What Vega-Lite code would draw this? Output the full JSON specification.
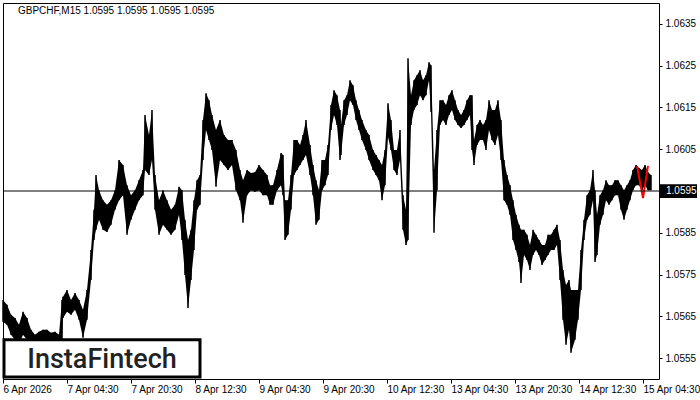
{
  "$schema": "https://vega.github.io/schema/vega-lite/v6.json",
  "width": 656,
  "height": 376,
  "autosize": {"type": "none"},
  "padding": {"left": 3, "top": 3, "right": 41, "bottom": 21},
  "background": "white",
  "config": {
    "view": {"stroke": "black", "strokeWidth": 1},
    "font": "Liberation Sans",
    "axis": {"labelFont": "Liberation Sans", "labelFontSize": 10, "labelColor": "black", "tickColor": "black", "grid": false, "domain": false}
  },
  "datasets": {
    "bars": [
      {"i":0,"h":1.05689,"l":1.05637},{"i":4,"h":1.05678,"l":1.0563},{"i":8,"h":1.05654,"l":1.05606},{"i":12,"h":1.05646,"l":1.05594},{"i":16,"h":1.0563,"l":1.05582},{"i":20,"h":1.05661,"l":1.05606},{"i":24,"h":1.05646,"l":1.05594},{"i":28,"h":1.05618,"l":1.05582},{"i":32,"h":1.05606,"l":1.05582},{"i":36,"h":1.05613,"l":1.05582},{"i":40,"h":1.05618,"l":1.05582},{"i":44,"h":1.05618,"l":1.05589},{"i":48,"h":1.05611,"l":1.05582},{"i":52,"h":1.05613,"l":1.05582},{"i":56,"h":1.05606,"l":1.05582},{"i":59,"h":1.05689,"l":1.05594},{"i":60,"h":1.05697,"l":1.05646},{"i":64,"h":1.05713,"l":1.05661},{"i":68,"h":1.05689,"l":1.05654},{"i":72,"h":1.05706,"l":1.05666},{"i":76,"h":1.05689,"l":1.05642},{"i":80,"h":1.05666,"l":1.05599},{"i":84,"h":1.05713,"l":1.05642},{"i":88,"h":1.05809,"l":1.05737},{"i":91,"h":1.05905,"l":1.05833},{"i":93,"h":1.05988,"l":1.05857},{"i":96,"h":1.05952,"l":1.05881},{"i":100,"h":1.05928,"l":1.05857},{"i":104,"h":1.05917,"l":1.05852},{"i":108,"h":1.05928,"l":1.05869},{"i":112,"h":1.05952,"l":1.05905},{"i":116,"h":1.06024,"l":1.05928},{"i":120,"h":1.06012,"l":1.0594},{"i":124,"h":1.05964,"l":1.05845},{"i":128,"h":1.0594,"l":1.05881},{"i":132,"h":1.05952,"l":1.05905},{"i":136,"h":1.05976,"l":1.05928},{"i":140,"h":1.06,"l":1.0594},{"i":142,"h":1.06132,"l":1.06},{"i":146,"h":1.06084,"l":1.05988},{"i":149,"h":1.06144,"l":1.06024},{"i":152,"h":1.05988,"l":1.05905},{"i":156,"h":1.05928,"l":1.05845},{"i":160,"h":1.05952,"l":1.05869},{"i":164,"h":1.05928,"l":1.05857},{"i":168,"h":1.05905,"l":1.05845},{"i":172,"h":1.05917,"l":1.05857},{"i":176,"h":1.0596,"l":1.05893},{"i":179,"h":1.05952,"l":1.05833},{"i":182,"h":1.05881,"l":1.05749},{"i":185,"h":1.05833,"l":1.0567},{"i":188,"h":1.05857,"l":1.05737},{"i":191,"h":1.05928,"l":1.05809},{"i":194,"h":1.05976,"l":1.05905},{"i":197,"h":1.05988,"l":1.05917},{"i":200,"h":1.0612,"l":1.06024},{"i":203,"h":1.06184,"l":1.06096},{"i":206,"h":1.06167,"l":1.06072},{"i":209,"h":1.06132,"l":1.06048},{"i":213,"h":1.06096,"l":1.0596},{"i":217,"h":1.0612,"l":1.06024},{"i":221,"h":1.06084,"l":1.06012},{"i":225,"h":1.06072,"l":1.06},{"i":229,"h":1.06072,"l":1.06012},{"i":233,"h":1.06048,"l":1.05952},{"i":237,"h":1.06,"l":1.05928},{"i":240,"h":1.05976,"l":1.05874},{"i":244,"h":1.06,"l":1.0594},{"i":248,"h":1.05993,"l":1.05952},{"i":252,"h":1.05995,"l":1.05948},{"i":256,"h":1.06012,"l":1.05952},{"i":260,"h":1.06,"l":1.0594},{"i":264,"h":1.05988,"l":1.0594},{"i":267,"h":1.05964,"l":1.05917},{"i":270,"h":1.05964,"l":1.05917},{"i":274,"h":1.06,"l":1.05952},{"i":278,"h":1.06041,"l":1.05964},{"i":280,"h":1.06036,"l":1.0594},{"i":282,"h":1.05928,"l":1.05833},{"i":285,"h":1.05928,"l":1.05845},{"i":288,"h":1.05988,"l":1.05905},{"i":291,"h":1.06072,"l":1.05988},{"i":294,"h":1.06072,"l":1.06},{"i":297,"h":1.0606,"l":1.06012},{"i":300,"h":1.06084,"l":1.06024},{"i":303,"h":1.0612,"l":1.06036},{"i":307,"h":1.0606,"l":1.05988},{"i":310,"h":1.06012,"l":1.0594},{"i":313,"h":1.05976,"l":1.05869},{"i":316,"h":1.05952,"l":1.05881},{"i":319,"h":1.06024,"l":1.05952},{"i":322,"h":1.06024,"l":1.05964},{"i":325,"h":1.0606,"l":1.05988},{"i":328,"h":1.06156,"l":1.06096},{"i":331,"h":1.06191,"l":1.06132},{"i":334,"h":1.06179,"l":1.06108},{"i":337,"h":1.06144,"l":1.06024},{"i":338,"h":1.06108,"l":1.06036},{"i":341,"h":1.06167,"l":1.06108},{"i":344,"h":1.06179,"l":1.06132},{"i":347,"h":1.06215,"l":1.06167},{"i":350,"h":1.06203,"l":1.06156},{"i":353,"h":1.06167,"l":1.0612},{"i":356,"h":1.06144,"l":1.06096},{"i":359,"h":1.0612,"l":1.06072},{"i":363,"h":1.06096,"l":1.06048},{"i":366,"h":1.06084,"l":1.06024},{"i":370,"h":1.06048,"l":1.06},{"i":373,"h":1.06036,"l":1.05988},{"i":376,"h":1.06024,"l":1.05976},{"i":379,"h":1.06012,"l":1.05928},{"i":382,"h":1.06048,"l":1.05964},{"i":385,"h":1.0616,"l":1.06079},{"i":388,"h":1.0612,"l":1.06048},{"i":391,"h":1.06048,"l":1.06},{"i":394,"h":1.06048,"l":1.05988},{"i":397,"h":1.06096,"l":1.06024},{"i":400,"h":1.0594,"l":1.05857},{"i":403,"h":1.05905,"l":1.05821},{"i":405,"h":1.06268,"l":1.05833},{"i":408,"h":1.06179,"l":1.06108},{"i":411,"h":1.06215,"l":1.06144},{"i":414,"h":1.06227,"l":1.06156},{"i":417,"h":1.06239,"l":1.06179},{"i":420,"h":1.06215,"l":1.06167},{"i":423,"h":1.06227,"l":1.06179},{"i":426,"h":1.06258,"l":1.06215},{"i":428,"h":1.06251,"l":1.06139},{"i":431,"h":1.06,"l":1.0585},{"i":434,"h":1.06096,"l":1.05952},{"i":437,"h":1.06167,"l":1.06108},{"i":440,"h":1.06167,"l":1.0612},{"i":443,"h":1.06156,"l":1.06108},{"i":446,"h":1.06179,"l":1.06132},{"i":449,"h":1.06191,"l":1.06144},{"i":452,"h":1.06167,"l":1.0612},{"i":455,"h":1.06144,"l":1.06108},{"i":458,"h":1.06132,"l":1.06101},{"i":461,"h":1.06144,"l":1.06108},{"i":464,"h":1.06167,"l":1.0612},{"i":467,"h":1.06179,"l":1.06132},{"i":469,"h":1.06179,"l":1.06048},{"i":471,"h":1.06072,"l":1.06012},{"i":474,"h":1.06108,"l":1.0606},{"i":477,"h":1.0612,"l":1.06072},{"i":480,"h":1.06108,"l":1.06072},{"i":483,"h":1.0612,"l":1.06048},{"i":486,"h":1.06167,"l":1.06096},{"i":489,"h":1.06144,"l":1.06072},{"i":492,"h":1.06144,"l":1.0606},{"i":495,"h":1.06167,"l":1.06084},{"i":498,"h":1.0612,"l":1.06024},{"i":501,"h":1.06024,"l":1.05928},{"i":504,"h":1.05988,"l":1.05917},{"i":507,"h":1.05964,"l":1.05893},{"i":510,"h":1.05928,"l":1.05833},{"i":513,"h":1.05893,"l":1.05809},{"i":516,"h":1.05869,"l":1.0578},{"i":518,"h":1.05857,"l":1.0573},{"i":521,"h":1.05857,"l":1.05797},{"i":524,"h":1.05845,"l":1.05785},{"i":527,"h":1.05821,"l":1.05761},{"i":530,"h":1.05857,"l":1.05797},{"i":533,"h":1.05845,"l":1.05809},{"i":536,"h":1.05833,"l":1.05797},{"i":539,"h":1.05821,"l":1.05773},{"i":542,"h":1.05821,"l":1.05785},{"i":545,"h":1.05845,"l":1.05797},{"i":548,"h":1.05845,"l":1.05809},{"i":551,"h":1.05857,"l":1.05809},{"i":554,"h":1.05869,"l":1.05821},{"i":557,"h":1.05833,"l":1.05737},{"i":560,"h":1.05761,"l":1.05642},{"i":563,"h":1.05725,"l":1.05582},{"i":566,"h":1.05737,"l":1.05618},{"i":568,"h":1.05713,"l":1.05563},{"i":572,"h":1.05713,"l":1.05594},{"i":575,"h":1.05713,"l":1.05642},{"i":578,"h":1.05809,"l":1.05713},{"i":581,"h":1.05881,"l":1.05833},{"i":584,"h":1.0594,"l":1.05881},{"i":587,"h":1.05952,"l":1.05893},{"i":590,"h":1.06,"l":1.05928},{"i":592,"h":1.05952,"l":1.0578},{"i":594,"h":1.05893,"l":1.05797},{"i":597,"h":1.0594,"l":1.05869},{"i":600,"h":1.05952,"l":1.05893},{"i":603,"h":1.05976,"l":1.05928},{"i":606,"h":1.05964,"l":1.05917},{"i":609,"h":1.05964,"l":1.05928},{"i":612,"h":1.05976,"l":1.0594},{"i":615,"h":1.05976,"l":1.0594},{"i":618,"h":1.05964,"l":1.05905},{"i":621,"h":1.05952,"l":1.05881},{"i":624,"h":1.05964,"l":1.05905},{"i":627,"h":1.05976,"l":1.05928},{"i":630,"h":1.06,"l":1.05952},{"i":633,"h":1.06012,"l":1.05964},{"i":636,"h":1.06005,"l":1.05964},{"i":639,"h":1.06,"l":1.05952},{"i":642,"h":1.06012,"l":1.05964},{"i":645,"h":1.05995,"l":1.05952},{"i":648,"h":1.05988,"l":1.05952}
    ],
    "pattern": [
      {"i":634,"p":1.0601},{"i":640,"p":1.05933},{"i":645,"p":1.0601}
    ]
  },
  "layer": [
    {
      "data": {"name": "bars"},
      "mark": {"type": "area", "color": "black", "interpolate": "linear"},
      "encoding": {
        "x": {
          "field": "i", "type": "quantitative",
          "scale": {"domain": [0, 656], "nice": false, "zero": false},
          "axis": {
            "title": null, "orient": "bottom",
            "values": [0, 64, 128, 192, 256, 320, 384, 448, 512, 576, 640],
            "labelExpr": "['6 Apr 2026','7 Apr 04:30','7 Apr 20:30','8 Apr 12:30','9 Apr 04:30','9 Apr 20:30','10 Apr 12:30','13 Apr 04:30','13 Apr 20:30','14 Apr 12:30','15 Apr 04:30'][round(datum.value/64)]",
            "labelAlign": "left", "labelFlush": false, "labelOverlap": false, "labelBound": false,
            "tickSize": 4, "labelPadding": 1
          }
        },
        "y": {
          "field": "l", "type": "quantitative",
          "scale": {"domain": [1.055, 1.064], "nice": false, "zero": false},
          "axis": {
            "title": null, "orient": "right",
            "values": [1.0555, 1.0565, 1.0575, 1.0585, 1.0595, 1.0605, 1.0615, 1.0625, 1.0635],
            "format": ".4f", "tickSize": 3, "labelPadding": 3, "labelOverlap": false, "labelFlush": false
          }
        },
        "y2": {"field": "h"}
      }
    },
    {
      "data": {"name": "bars"},
      "mark": {"type": "rule", "color": "black", "strokeWidth": 1.5},
      "encoding": {
        "x": {"field": "i", "type": "quantitative"},
        "y": {"field": "l", "type": "quantitative"},
        "y2": {"field": "h"}
      }
    },
    {
      "data": {"name": "pattern"},
      "mark": {"type": "line", "color": "#ff0000", "strokeWidth": 2},
      "encoding": {
        "x": {"field": "i", "type": "quantitative"},
        "y": {"field": "p", "type": "quantitative"}
      }
    },
    {
      "data": {"values": [{"p": 1.0595}]},
      "mark": {"type": "rule", "color": "black", "strokeWidth": 1},
      "encoding": {
        "y": {"field": "p", "type": "quantitative"}
      }
    },
    {
      "data": {"values": [{"x1": 657, "x2": 694, "y1": 1.05933, "y2": 1.05966}]},
      "mark": {"type": "rect", "color": "black", "clip": false},
      "encoding": {
        "x": {"field": "x1", "type": "quantitative"},
        "x2": {"field": "x2"},
        "y": {"field": "y1", "type": "quantitative"},
        "y2": {"field": "y2"}
      }
    },
    {
      "data": {"values": [{"x": 663, "p": 1.0595, "t": "1.0595"}]},
      "mark": {"type": "text", "color": "white", "align": "left", "baseline": "middle", "font": "Liberation Sans", "fontSize": 10, "clip": false},
      "encoding": {
        "x": {"field": "x", "type": "quantitative"},
        "y": {"field": "p", "type": "quantitative"},
        "text": {"field": "t"}
      }
    },
    {
      "data": {"values": [{"x": 15, "p": 1.0638, "t": "GBPCHF,M15  1.0595 1.0595 1.0595 1.0595"}]},
      "mark": {"type": "text", "color": "black", "align": "left", "baseline": "middle", "font": "Liberation Sans", "fontSize": 10},
      "encoding": {
        "x": {"field": "x", "type": "quantitative"},
        "y": {"field": "p", "type": "quantitative"},
        "text": {"field": "t"}
      }
    },
    {
      "data": {"values": [{"x1": 1, "x2": 197, "y1": 1.05505, "y2": 1.05594}]},
      "mark": {"type": "rect", "fill": "white", "stroke": "black", "strokeWidth": 3},
      "encoding": {
        "x": {"field": "x1", "type": "quantitative"},
        "x2": {"field": "x2"},
        "y": {"field": "y1", "type": "quantitative"},
        "y2": {"field": "y2"}
      }
    },
    {
      "data": {"values": [{"x": 99, "p": 1.05546, "t": "InstaFintech"}]},
      "mark": {"type": "text", "color": "#222222", "align": "center", "baseline": "middle", "font": "Roboto", "fontSize": 27, "fontWeight": 500},
      "encoding": {
        "x": {"field": "x", "type": "quantitative"},
        "y": {"field": "p", "type": "quantitative"},
        "text": {"field": "t"}
      }
    }
  ]
}
